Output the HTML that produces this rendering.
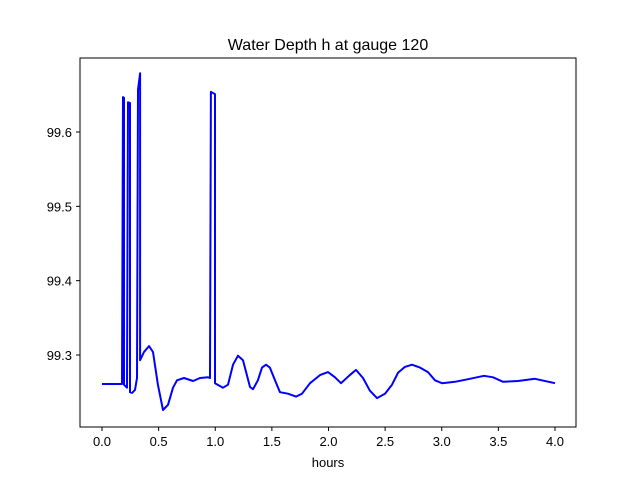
<!DOCTYPE html>
<html><head><meta charset="utf-8"><style>body{margin:0;background:#fff}svg{display:block;font-family:"Liberation Sans","DejaVu Sans",sans-serif}</style></head>
<body>
<svg id="c" width="640" height="480">
<rect width="640" height="480" fill="#fff"/>
<text x="328" y="50" text-anchor="middle" font-size="16">Water Depth h at gauge 120</text>
<text x="328" y="467" text-anchor="middle" font-size="13">hours</text>
<g id="ticks"></g>
<polyline id="line" fill="none" stroke="#0000ff" stroke-width="2" stroke-linejoin="round"/>
<rect x="80" y="58" width="496" height="369" fill="none" stroke="#000" stroke-width="1"/>
</svg>
<script>
const hours=[0,.177,.185,.194,.194,.221,.230,.247,.247,.265,.291,.309,.318,.336,.336,.371,.415,.450,.494,.539,.583,.627,.662,.724,.804,.865,.936,.954,.962,.998,.998,1.068,1.113,1.157,1.201,1.245,1.307,1.333,1.377,1.413,1.448,1.483,1.528,1.572,1.642,1.713,1.766,1.837,1.925,1.996,2.057,2.110,2.181,2.243,2.305,2.366,2.428,2.499,2.561,2.614,2.675,2.737,2.808,2.879,2.940,3.002,3.117,3.249,3.373,3.453,3.541,3.673,3.823,4.0];
const depth=[99.261,99.261,99.647,99.646,99.260,99.256,99.640,99.639,99.250,99.249,99.253,99.269,99.657,99.679,99.293,99.304,99.312,99.304,99.260,99.226,99.233,99.256,99.266,99.269,99.265,99.269,99.270,99.269,99.654,99.651,99.262,99.256,99.260,99.287,99.299,99.293,99.257,99.254,99.266,99.283,99.287,99.283,99.266,99.250,99.248,99.244,99.248,99.262,99.273,99.277,99.270,99.262,99.272,99.280,99.269,99.252,99.242,99.248,99.260,99.276,99.284,99.287,99.283,99.277,99.266,99.262,99.264,99.268,99.272,99.270,99.264,99.265,99.268,99.262];
const xTicks=[0,0.5,1,1.5,2,2.5,3,3.5,4];
const yTicks=[99.3,99.4,99.5,99.6];
const X=v=>102+v*113.25;
const Y=v=>355-(v-99.3)*743.3;
const ns="http://www.w3.org/2000/svg";
const line=document.getElementById('line');
line.setAttribute('points',hours.map((h,i)=>X(h).toFixed(1)+','+Y(depth[i]).toFixed(1)).join(' '));
const g=document.getElementById('ticks');
xTicks.forEach(t=>{
 const l=document.createElementNS(ns,'line');
 l.setAttribute('x1',X(t));l.setAttribute('x2',X(t));l.setAttribute('y1',427);l.setAttribute('y2',431);l.setAttribute('stroke','#000');
 
 
 g.appendChild(l);
 const tx=document.createElementNS(ns,'text');
 tx.setAttribute('x',X(t));tx.setAttribute('y',446);tx.setAttribute('text-anchor','middle');tx.setAttribute('font-size','13');
 tx.textContent=t.toFixed(1);
 
 
 g.appendChild(tx);
});
yTicks.forEach(t=>{
 const l=document.createElementNS(ns,'line');
 l.setAttribute('x1',76);l.setAttribute('x2',80);l.setAttribute('y1',Y(t));l.setAttribute('y2',Y(t));l.setAttribute('stroke','#000');
 
 
 g.appendChild(l);
 const tx=document.createElementNS(ns,'text');
 tx.setAttribute('x',72);tx.setAttribute('y',Y(t)+5);tx.setAttribute('text-anchor','end');tx.setAttribute('font-size','13');
 tx.textContent=t.toFixed(1);
 
 
 g.appendChild(tx);
});
</script>
</body></html>
